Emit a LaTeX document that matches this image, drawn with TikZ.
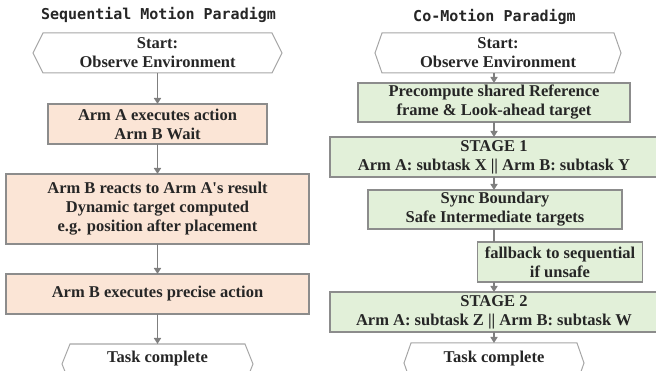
\documentclass[tikz,border=0pt]{standalone}
\usepackage{fontspec}
\setmainfont{Liberation Serif}
\newfontfamily\titlefont{DejaVu Sans Mono}
\usetikzlibrary{arrows.meta}
\definecolor{peach}{HTML}{FBE5D6}
\definecolor{mint}{HTML}{E2F0D9}
\definecolor{edgegray}{HTML}{8C8C8C}
\definecolor{hexgray}{HTML}{A6A6A6}
\definecolor{arrgray}{HTML}{7F7F7F}
\definecolor{ink}{HTML}{262626}
\newcommand\straightapos{\XeTeXglyph\numexpr\XeTeXcharglyph"0027\relax}
\newcommand\hexoutline[2]{\draw[hexline] ([xshift=#2]#1.north west) -- ([xshift=-#2]#1.north east) -- (#1.east) -- ([xshift=-#2]#1.south east) -- ([xshift=#2]#1.south west) -- (#1.west) -- cycle;}
\begin{document}
\begin{tikzpicture}[x=1pt,y=-1pt,
  every node/.style={inner sep=0pt, outer sep=0pt},
  txt/.style={font=\fontsize{16.5}{19}\selectfont\bfseries, text=ink, align=center},
  box/.style={txt, draw=edgegray, line width=1.5pt},
  seqbox/.style={box, fill=peach},
  cobox/.style={box, fill=mint},
  hexnode/.style={txt, minimum height=40pt},
  hexline/.style={draw=hexgray, line width=1pt, fill=white},
  title/.style={font=\titlefont\fontsize{15}{18}\selectfont\bfseries, text=ink},
  arr/.style={draw=arrgray, line width=1.5pt, -{Triangle[width=7pt,length=6pt]}},
  conn/.style={draw=arrgray, line width=1.5pt}
]
\useasboundingbox (0,0) rectangle (656,371);

% titles
\node[title] (t1) at (158.5,15) {Sequential Motion Paradigm};
\node[title] (t2) at (494.5,17) {Co-Motion Paradigm};

% left column
\node[hexnode, minimum width=249pt] (sstart) at (157.5,53) {};
\hexoutline{sstart}{10pt}
\node[txt] at (sstart) {Start:\\Observe Environment};
\node[seqbox, minimum width=219pt, minimum height=40pt] (sa) at (157.5,124) {Arm A executes action\\Arm B Wait};
\node[seqbox, minimum width=303pt, minimum height=70pt] (sb) at (157.5,209) {Arm B reacts to Arm A\straightapos s result\\Dynamic target computed\\e.g. position after placement};
\node[seqbox, minimum width=303pt, minimum height=40pt] (sc) at (157.5,294) {Arm B executes precise action};
\node[hexnode, minimum width=191pt] (send) at (157.5,364) {};
\hexoutline{send}{8pt}
\node[txt] at ([yshift=5pt]send) {Task complete};

\draw[arr] (sstart.south) -- (sa.north);
\draw[arr] (sa.south) -- (sb.north);
\draw[arr] (sb.south) -- (sc.north);
\draw[arr] (sc.south) -- (send.north);

% right column
\node[hexnode, minimum width=246pt] (cstart) at (498,53) {};
\hexoutline{cstart}{7pt}
\node[txt] at (cstart) {Start:\\Observe Environment};
\node[cobox, minimum width=272pt, minimum height=39pt] (cpre) at (494,102.5) {Precompute shared Reference\\frame \& Look-ahead target};
\node[cobox, minimum width=328pt, minimum height=40pt] (cs1) at (494,157) {STAGE 1\\Arm A: subtask X || Arm B: subtask Y};
\node[cobox, minimum width=254pt, minimum height=39pt] (csync) at (495,209.5) {Sync Boundary\\Safe Intermediate targets};
\node[cobox, minimum width=165pt, minimum height=40pt] (cfb) at (560,262) {fallback to sequential\\if unsafe};
\node[cobox, minimum width=328pt, minimum height=40pt] (cs2) at (494,312) {STAGE 2\\Arm A: subtask Z || Arm B: subtask W};
\node[hexnode, minimum width=180pt] (cend) at (494,363) {};
\hexoutline{cend}{7pt}
\node[txt] at ([yshift=4pt]cend) {Task complete};

\draw[arr] (cstart.south -| cpre.north) -- (cpre.north);
\draw[arr] (cpre.south) -- (cs1.north);
\draw[arr] (cs1.south) -- (cs1.south |- csync.north);
\draw[conn] (cs1.south |- csync.south) -- (cs1.south |- cfb.north);
\draw[arr] (cs1.south |- cfb.south) -- (cs2.north);
\draw[arr] (cs2.south) -- (cend.north);
\end{tikzpicture}
\end{document}
